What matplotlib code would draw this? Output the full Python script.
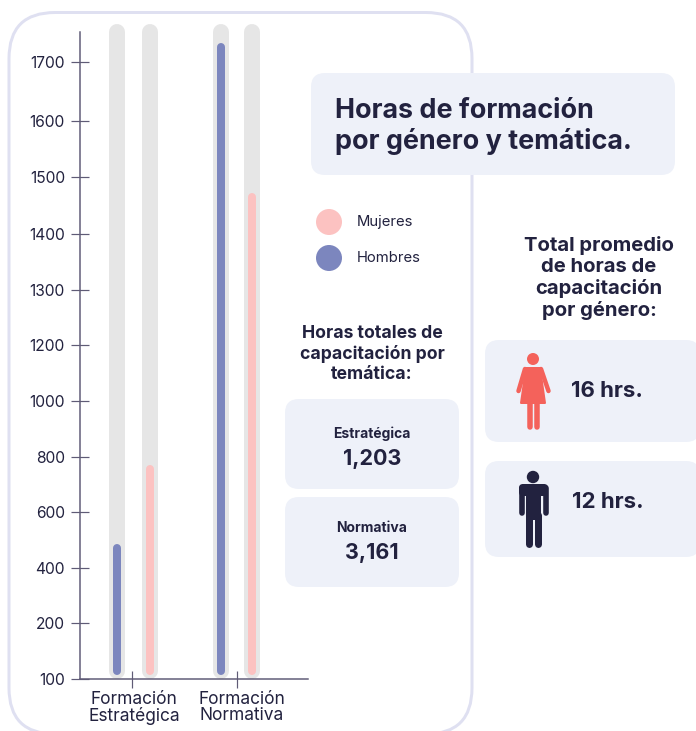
import numpy as np
import matplotlib
matplotlib.use("Agg")
import matplotlib.pyplot as plt
from matplotlib.patches import FancyBboxPatch, Circle, Polygon, Rectangle
from matplotlib.ticker import NullLocator
from matplotlib.transforms import ScaledTranslation

plt.rcParams['font.family'] = ['Inter', 'DejaVu Sans']

# y axis labels are not evenly spaced in value, every label sits one step apart
y_ticks = [100, 200, 400, 600, 800, 1000, 1200, 1300, 1400, 1500, 1600, 1700]
y_steps = [0, 1.0, 1.98, 2.98, 3.96, 4.96, 5.96, 6.95, 7.95, 8.96, 9.96, 11.02]
y_max = 1760
y_max_step = 11.554

categories = ["Formación\nEstratégica", "Formación\nNormativa"]
hombres = [471, 1730]
mujeres = [756, 1465]
bar_base = 114
track_top = 1760

TEXT = "#22223F"
AXIS = "#5F5B76"
TRACK = "#E6E6E6"
PINK = "#FCC2C1"
BLUE = "#7C86BE"
CARD = "#EEF1F9"
FRAME = "#DFE0F1"
CORAL = "#F4625B"


def forward(v):
    return np.interp(v, y_ticks + [y_max], y_steps + [y_max_step])


def inverse(p):
    return np.interp(p, y_steps + [y_max_step], y_ticks + [y_max])


def px(v):
    return v * 0.72


def card(ax, x0, y0, x1, y1, r=14, fc=CARD, ec="none", lw=0):
    ax.add_patch(FancyBboxPatch((x0 + r, y0 + r), x1 - x0 - 2 * r, y1 - y0 - 2 * r,
                                boxstyle=f"round,pad={r},rounding_size={r}",
                                fc=fc, ec=ec, lw=lw, clip_on=False))


fig = plt.figure(figsize=(6.96, 7.31), dpi=100)

# background layer in pixels for panels and icons
bg = fig.add_axes([0, 0, 1, 1])
bg.set_xlim(0, 696)
bg.set_ylim(731, 0)
bg.axis("off")

card(bg, 9, 12.5, 472, 734, r=46, fc="white", ec=FRAME, lw=px(3))
card(bg, 311, 73, 675, 175, r=14)
card(bg, 285, 399, 459, 489, r=14)
card(bg, 285, 497, 459, 587, r=14)
card(bg, 485, 340, 700, 442, r=14)
card(bg, 485, 461, 700, 557, r=14)

bg.text(335, 126.5, "Horas de formación\npor género y temática.", fontsize=19.4, fontweight="bold",
        color=TEXT, va="center", ha="left", linespacing=1.22)

bg.add_patch(Circle((329, 222), 13, fc=PINK, ec="none"))
bg.add_patch(Circle((329, 258), 13, fc=BLUE, ec="none"))
bg.text(357, 222, "Mujeres", fontsize=10.7, color=TEXT, va="center")
bg.text(357, 258, "Hombres", fontsize=10.7, color=TEXT, va="center")

bg.text(372, 354, "Horas totales de\ncapacitación por\ntemática:", fontsize=12.7, fontweight="bold",
        color=TEXT, ha="center", va="center", linespacing=1.2)
bg.text(372, 434, "Estratégica", fontsize=10, fontweight="bold", color=TEXT, ha="center", va="center")
bg.text(372, 459, "1,203", fontsize=15.5, fontweight="bold", color=TEXT, ha="center", va="center")
bg.text(372, 528, "Normativa", fontsize=10, fontweight="bold", color=TEXT, ha="center", va="center")
bg.text(372, 553, "3,161", fontsize=15.5, fontweight="bold", color=TEXT, ha="center", va="center")

bg.text(599, 278, "Total promedio\nde horas de\ncapacitación\npor género:", fontsize=14.6, fontweight="bold",
        color=TEXT, ha="center", va="center", linespacing=1.2)
bg.text(571, 391, "16 hrs.", fontsize=16, fontweight="bold", color=TEXT, va="center")
bg.text(572, 502, "12 hrs.", fontsize=16, fontweight="bold", color=TEXT, va="center")

# woman icon
bg.add_patch(Circle((533, 359), 6, fc=CORAL, ec="none"))
bg.add_patch(Polygon([(526, 368), (540, 368), (545, 403), (521, 403)], closed=True,
                     fc=CORAL, ec=CORAL, lw=px(2), joinstyle="round"))
bg.plot([525, 518.5], [369, 391], color=CORAL, lw=px(4.5), solid_capstyle="round")
bg.plot([541, 548.5], [369, 391], color=CORAL, lw=px(4.5), solid_capstyle="round")
bg.plot([529.5, 529.5], [402, 426.5], color=CORAL, lw=px(5.5), solid_capstyle="round")
bg.plot([536.9, 536.9], [402, 426.5], color=CORAL, lw=px(5.5), solid_capstyle="round")

# man icon
bg.add_patch(Circle((533, 477), 6.2, fc=TEXT, ec="none"))
bg.add_patch(FancyBboxPatch((523, 488), 21, 4, boxstyle="round,pad=4,rounding_size=4", fc=TEXT, ec="none"))
bg.add_patch(Rectangle((526, 488), 15, 32, fc=TEXT, ec="none"))
bg.plot([521.5, 521.5], [488, 512.5], color=TEXT, lw=px(5.6), solid_capstyle="round")
bg.plot([545.5, 545.5], [488, 512.5], color=TEXT, lw=px(5.6), solid_capstyle="round")
bg.plot([529.2, 529.2], [515, 543.5], color=TEXT, lw=px(7), solid_capstyle="round")
bg.plot([537.5, 537.5], [515, 543.5], color=TEXT, lw=px(7), solid_capstyle="round")

# chart axes
ax = fig.add_axes([80 / 696, 1 - 679 / 731, 228 / 696, 647 / 731])
ax.patch.set_alpha(0)
ax.set_yscale("function", functions=(forward, inverse))
ax.set_xlim(-0.495, 1.676)
ax.set_ylim(100, y_max)

offsets_h = [-0.143, -0.152]
offsets_m = [0.171, 0.143]
for i in range(len(categories)):
    xh = i + offsets_h[i]
    xm = i + offsets_m[i]
    ax.plot([xh, xh], [bar_base, track_top], color=TRACK, lw=px(16), solid_capstyle="round", clip_on=False)
    ax.plot([xm, xm], [bar_base, track_top], color=TRACK, lw=px(16), solid_capstyle="round", clip_on=False)
    ax.plot([xh, xh], [bar_base, hombres[i]], color=BLUE, lw=px(8), solid_capstyle="round", clip_on=False)
    ax.plot([xm, xm], [bar_base, mujeres[i]], color=PINK, lw=px(8), solid_capstyle="round", clip_on=False)

ax.spines["top"].set_visible(False)
ax.spines["right"].set_visible(False)
ax.spines["left"].set_color(AXIS)
ax.spines["bottom"].set_color(AXIS)
ax.spines["left"].set_linewidth(px(1.5))
ax.spines["bottom"].set_linewidth(px(1.5))

ax.set_yticks(y_ticks)
ax.set_yticklabels([str(t) for t in y_ticks])
ax.yaxis.set_minor_locator(NullLocator())
ax.set_xticks(range(len(categories)))
ax.set_xticklabels(categories)
ax.tick_params(axis="y", direction="inout", length=px(18), width=px(1.2), color=AXIS,
               labelcolor=TEXT, labelsize=11.2, pad=px(6))
ax.tick_params(axis="x", direction="inout", length=px(17), width=px(1.2), color=AXIS,
               labelcolor=TEXT, labelsize=12.5, pad=px(3))
for lab, dx in zip(ax.get_xticklabels(), [2, 5]):
    lab.set_linespacing(0.95)
    lab.set_transform(lab.get_transform() + ScaledTranslation(dx / 100, 0, fig.dpi_scale_trans))

fig.savefig("out.png", dpi=100)
